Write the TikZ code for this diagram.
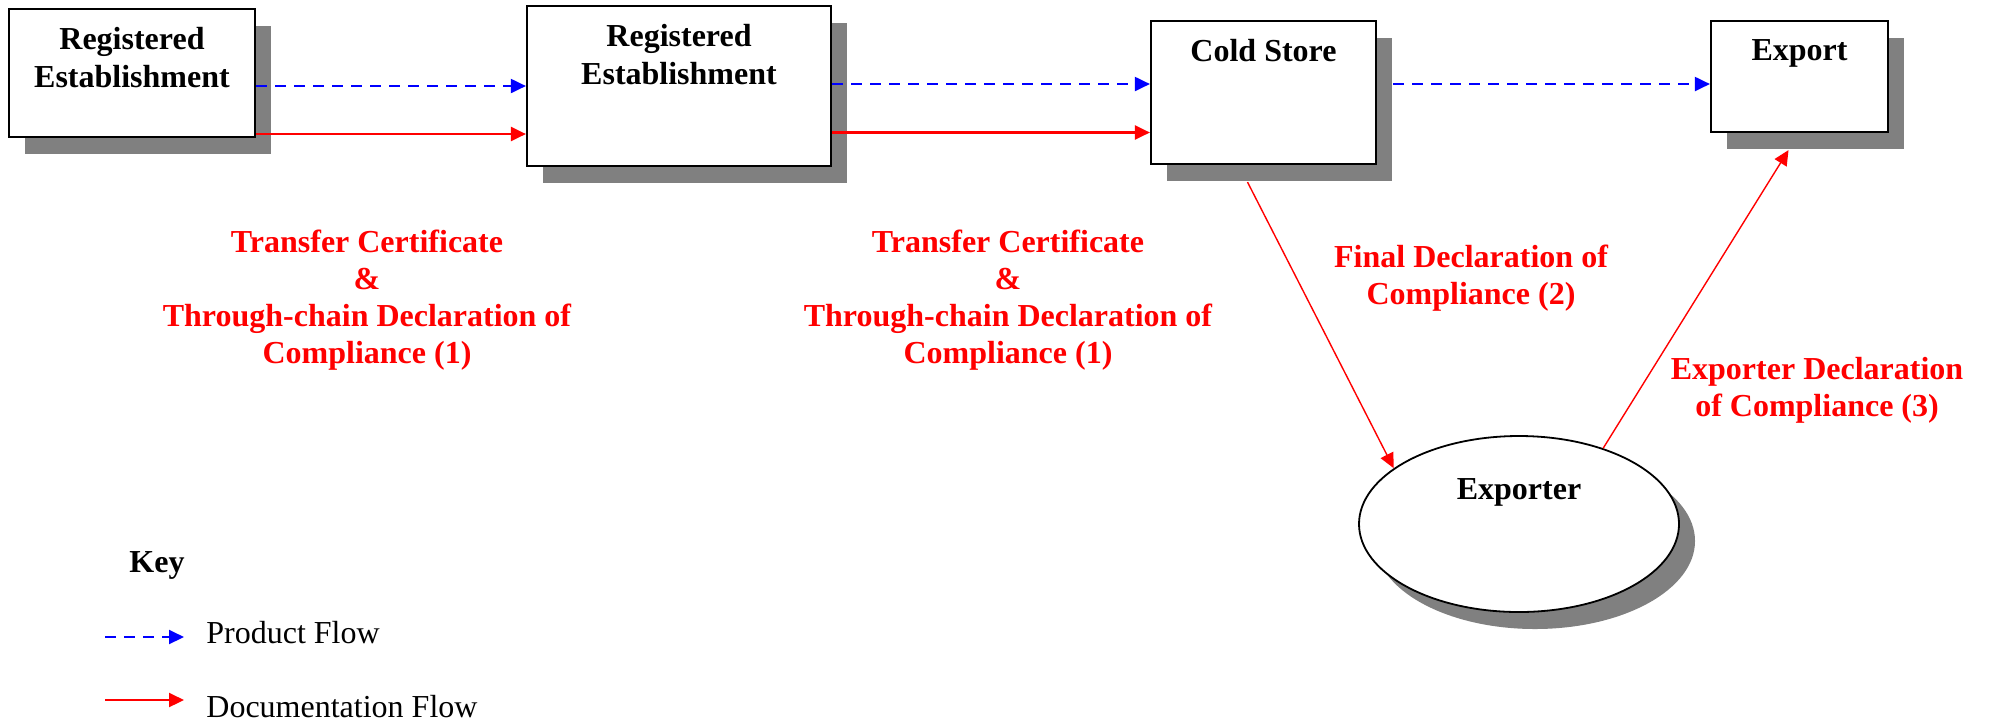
\documentclass[tikz,border=0pt]{standalone}
\usepackage{fontspec}
\setmainfont{Liberation Serif}
\usetikzlibrary{positioning,shadows,arrows.meta,shapes.geometric}

\begin{document}
\begin{tikzpicture}[x=0.5pt,y=-0.5pt,
  >={Triangle[length=7.5pt,width=7pt]},
  font=\fontsize{16}{18.5}\selectfont,
  box/.style={draw, line width=1.1pt, fill=white, inner sep=0pt,
    drop shadow={shadow xshift=8pt, shadow yshift=-8.5pt, fill=black!50, opacity=1}},
  boxtext/.style={font=\fontsize{16}{19}\selectfont\bfseries, align=center, inner sep=0pt},
  note/.style={font=\fontsize{16}{18.5}\selectfont\bfseries, text=red, align=center, inner sep=0pt, anchor=north},
  product/.style={->, blue, line width=1pt, dash pattern=on 5.5pt off 4pt},
  doc/.style={->, red, line width=1.1pt},
  docthin/.style={->, red, line width=0.7pt}]

  \useasboundingbox (0,0) rectangle (1995,725);

  % boxes
  \node[box, minimum width=123pt, minimum height=64pt] (re1) at (132,73) {};
  \node[box, minimum width=152pt, minimum height=80pt] (re2) at (679,86) {};
  \node[box, minimum width=112.5pt, minimum height=71.5pt] (cold) at (1263.5,92.5) {};
  \node[box, minimum width=88.5pt, minimum height=55.5pt] (export) at (1799.5,76.5) {};
  \node[box, ellipse, line width=0.9pt, minimum width=160pt, minimum height=88pt] (exporter) at (1519,524) {};

  % box texts
  \node[boxtext, below=9.5pt of re1.north] (re1text) {Registered\\Establishment};
  \node[boxtext, below=9.5pt of re2.north] (re2text) {Registered\\Establishment};
  \node[boxtext, below=9.5pt of cold.north] (coldtext) {Cold Store};
  \node[boxtext, below=9.5pt of export.north] (exporttext) {Export};
  \node[boxtext, below=21.5pt of exporter.north] (exportertext) {Exporter};

  % product flow
  \draw[product] (re1.east |- re2.west) -- (re2.west);
  \draw[product] ([yshift=1pt]re2.east) -- ([yshift=4.25pt]cold.west);
  \draw[product] ([xshift=8pt,yshift=4.25pt]cold.east) -- ([yshift=-3.75pt]export.west);

  % documentation flow
  \draw[doc] ([yshift=-30.5pt]re1.east) -- ([yshift=-24pt]re2.west);
  \draw[doc] ([yshift=-23.25pt]re2.east) -- ([yshift=-20pt]cold.west);
  \draw[docthin] ([xshift=-8pt,yshift=-8.5pt]cold.south) -- (exporter.156);
  \draw[docthin] (exporter.42) -- ([xshift=-5.5pt,yshift=-8.5pt]export.south);

  % documents
  \node[note] (tc1) at (367,230) {Transfer Certificate\\\&\\Through-chain Declaration of\\Compliance (1)};
  \node[note] (tc2) at (1008,230) {Transfer Certificate\\\&\\Through-chain Declaration of\\Compliance (1)};
  \node[note] (fdc) at (1471,245) {Final Declaration of\\Compliance (2)};
  \node[note] (edc) at (1817,357) {Exporter Declaration\\of Compliance (3)};

  % key
  \node[anchor=base, font=\fontsize{16}{18.5}\selectfont\bfseries] (key) at (157,572) {Key};
  \coordinate (pf1) at (105,637);
  \coordinate (pf2) at (184,637);
  \coordinate (df1) at (105,700);
  \coordinate (df2) at (184,700);
  \draw[product] (pf1) -- (pf2);
  \draw[doc] (df1) -- (df2);
  \node[anchor=base west, inner sep=0pt] (pftext) at (206,643) {Product Flow};
  \node[anchor=base west, inner sep=0pt] (dftext) at (206,717) {Documentation Flow};

\end{tikzpicture}
\end{document}
